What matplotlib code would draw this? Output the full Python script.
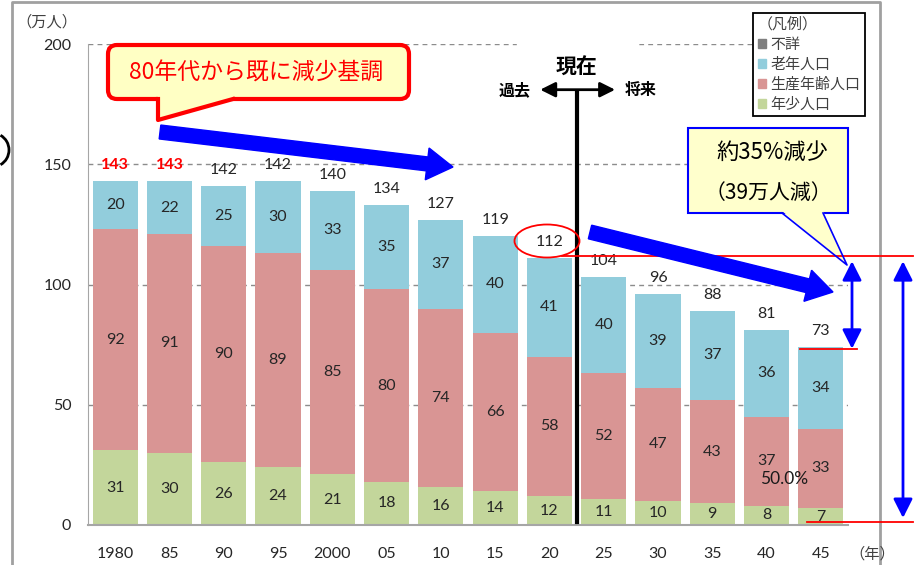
import matplotlib
matplotlib.use("Agg")
import matplotlib.pyplot as plt
import matplotlib.transforms as mtransforms
from matplotlib.patches import (FancyBboxPatch, Polygon, Rectangle, Ellipse,
                                Arc, FancyArrow, FancyArrowPatch, Patch)
from matplotlib.lines import Line2D
import numpy as np

plt.rcParams['font.family'] = ['Lato', 'Noto Sans CJK JP', 'DejaVu Sans']

# data (万人)
years = ["1980", "85", "90", "95", "2000", "05", "10", "15", "20",
         "25", "30", "35", "40", "45"]
young = [31, 30, 26, 24, 21, 18, 16, 14, 12, 11, 10, 9, 8, 7]
working = [92, 91, 90, 89, 85, 80, 74, 66, 58, 52, 47, 43, 37, 33]
elderly = [20, 22, 25, 30, 33, 35, 37, 40, 41, 40, 39, 37, 36, 34]
totals = [143, 143, 142, 142, 140, 134, 127, 119, 112, 104, 96, 88, 81, 73]
yticks = [0, 50, 100, 150, 200]
legend_labels = ["不詳", "老年人口", "生産年齢人口", "年少人口"]

C_UNK = "#7F7F7F"
C_OLD = "#92CDDC"
C_WORK = "#D99594"
C_YOUNG = "#C3D69B"
TXT = "#262626"
NUM = 11.5

W, H = 921, 565
fig = plt.figure(figsize=(W / 100, H / 100), dpi=100)
ax = fig.add_axes([88 / W, 40 / H, 760 / W, 481 / H])

# pixel coordinates of the picture (y downwards)
pix = mtransforms.Affine2D().scale(1 / 100, -1 / 100).translate(0, H / 100) + fig.dpi_scale_trans

x = np.arange(len(years))
y0 = np.array(young)
y1 = y0 + np.array(working)
y2 = y1 + np.array(elderly)
bw = 0.83
ax.bar(x, young, bw, color=C_YOUNG, zorder=2)
ax.bar(x, working, bw, bottom=y0, color=C_WORK, zorder=2)
ax.bar(x, elderly, bw, bottom=y1, color=C_OLD, zorder=2)

# segment labels
for i in x:
    for v, b in ((young[i], 0), (working[i], y0[i]), (elderly[i], y1[i])):
        ax.text(i, b + v / 2, str(v), ha="center", va="center",
                fontsize=NUM, color=TXT, zorder=4)
    red = i < 2
    ax.annotate(str(totals[i]), (i, y2[i]), xytext=(0, 11.5),
                textcoords="offset points", ha="center", va="center",
                fontsize=NUM, color="red" if red else TXT,
                fontweight="bold" if red else "normal", zorder=4)

ax.set_xlim(-0.5, 13.5)
ax.set_ylim(0, 200)
ax.set_xticks(x)
ax.set_xticklabels(years)
ax.set_yticks(yticks)
ax.tick_params(length=0, labelsize=NUM, colors=TXT)
ax.tick_params(axis="x", pad=16)
ax.tick_params(axis="y", pad=12)
ax.set_axisbelow(True)
ax.yaxis.grid(True, linestyle=(0, (3.5, 3)), color="#8C8C8C", lw=1)
for s in ("top", "right"):
    ax.spines[s].set_visible(False)
ax.spines["left"].set_color("#A6A6A6")
ax.spines["bottom"].set_color("#A6A6A6")
ax.spines["bottom"].set_linewidth(1.5)

fig.text(47 / W, 1 - 22 / H, "（万人）", ha="center", va="center", fontsize=11, color="#404040")
fig.text(872 / W, 1 - 554 / H, "（年）", ha="center", va="center", fontsize=11, color="#404040")

# legend
handles = [Patch(color=c) for c in (C_UNK, C_OLD, C_WORK, C_YOUNG)]
leg = ax.legend(handles, legend_labels, title="（凡例）", loc="upper left",
                bbox_to_anchor=(753 / W, 1 - 13 / H), bbox_transform=fig.transFigure,
                borderaxespad=0, fancybox=False, edgecolor="black", framealpha=1,
                fontsize=10.8, title_fontsize=10.8, handlelength=0.55, handleheight=0.55,
                handletextpad=0.3, labelspacing=0.38, borderpad=0.3, alignment="left")
leg.get_frame().set_linewidth(1.3)
leg.set_zorder(8)
for t in leg.get_texts():
    t.set_color("#404040")
leg.get_title().set_color("#404040")

# outer frame and cut circle on the left
fig.add_artist(Line2D([12, 12, 880, 880], [565, 2, 2, 565], transform=pix,
                      color="#A0A0A0", lw=2))
fig.add_artist(Arc((-8, 150), 34, 34, theta1=-60, theta2=60, transform=pix,
                   color="black", lw=2))

# gap in top grid line around 現在
fig.add_artist(Rectangle((517, 38), 121, 12, transform=pix, color="white", zorder=3))

# callout: 80年代から既に減少基調
fig.add_artist(FancyBboxPatch((108, 45), 301, 54, boxstyle="round,pad=0,rounding_size=9",
                              transform=pix, fc="#FFFFC4", ec="red", lw=3, zorder=5))
fig.add_artist(Polygon([(158, 95), (233, 95), (233, 99), (158, 120)], closed=True,
                       transform=pix, fc="#FFFFC4", ec="none", zorder=6))
fig.add_artist(Line2D([158, 158, 233], [99, 120, 99], transform=pix, color="red",
                      lw=3, zorder=7))
fig.text(256 / W, 1 - 73 / H, "80年代から既に減少基調", ha="center", va="center",
         fontsize=16.5, color="red", zorder=8, family=["Noto Sans CJK JP"])

# callout: 約35%減少
fig.add_artist(Rectangle((688, 128), 160, 85, transform=pix, fc="#FFFFCC",
                         ec="#0000FF", lw=1.5, zorder=5))
fig.add_artist(Polygon([(782, 211), (823, 211), (847, 265)], closed=True,
                       transform=pix, fc="#FFFFCC", ec="none", zorder=6))
fig.add_artist(Line2D([782, 847, 823], [213, 265, 213], transform=pix, color="#0000FF",
                      lw=1.2, zorder=7))
fig.text(772 / W, 1 - 152 / H, "約35%減少", ha="center", va="center", fontsize=16,
         color="black", zorder=8, family=["Noto Sans CJK JP"])
fig.text(768 / W, 1 - 193 / H, "（39万人減）", ha="center", va="center", fontsize=15,
         color="black", zorder=8, family=["Noto Sans CJK JP"])

# thick blue trend arrows
for (xa, ya, xb, yb) in ((160, 132, 453, 167), (590, 232, 833, 292)):
    fig.add_artist(FancyArrow(xa, ya, xb - xa, yb - ya, width=14, head_width=32,
                              head_length=26, length_includes_head=True,
                              transform=pix, color="#0000FF", zorder=7))

# now line
ax.plot([8.5, 8.5], [1.2, 180], color="black", lw=3, clip_on=False, zorder=6)
ax.add_patch(FancyArrowPatch((7.83, 181), (9.21, 181), arrowstyle="<|-|>,head_length=0.9,head_width=0.45",
                             mutation_scale=10, color="black", lw=2, clip_on=False,
                             shrinkA=0, shrinkB=0, zorder=6))
fig.text(577 / W, 1 - 67 / H, "現在", ha="center", va="center", fontsize=15,
         fontweight="bold", family=["Noto Sans CJK JP"])
fig.text(515 / W, 1 - 90 / H, "過去", ha="center", va="center", fontsize=11.5,
         fontweight="bold", family=["Noto Sans CJK JP"])
fig.text(641 / W, 1 - 90 / H, "将来", ha="center", va="center", fontsize=11.5,
         fontweight="bold", family=["Noto Sans CJK JP"])

# 112 circle and reduction markers
fig.add_artist(Ellipse((547, 241), 65, 33, transform=pix, ec="red", fc="none", lw=1.3, zorder=6))
bt = mtransforms.blended_transform_factory(pix, ax.transData)
for (xa, xb, lvl) in ((562, 913, totals[8]), (800, 857, totals[13]), (807, 913, 1.2)):
    fig.add_artist(Line2D([xa, xb], [lvl, lvl], transform=bt, color="red", lw=1.3, zorder=6))
for (xp, lo, sb) in ((852, totals[13], 0.5), (903, 1.2, 3)):
    fig.add_artist(FancyArrowPatch((xp, totals[8]), (xp, lo), transform=bt,
                                   arrowstyle="<|-|>,head_length=1.15,head_width=0.58",
                                   mutation_scale=10, color="#0000FF", lw=2,
                                   shrinkA=4, shrinkB=sb, zorder=7))

fig.text(784 / W, 1 - 479 / H, "50.0%", ha="center", va="center", fontsize=12.5,
         color="#1A1A1A", zorder=8)

fig.savefig("out.png", dpi=100)
